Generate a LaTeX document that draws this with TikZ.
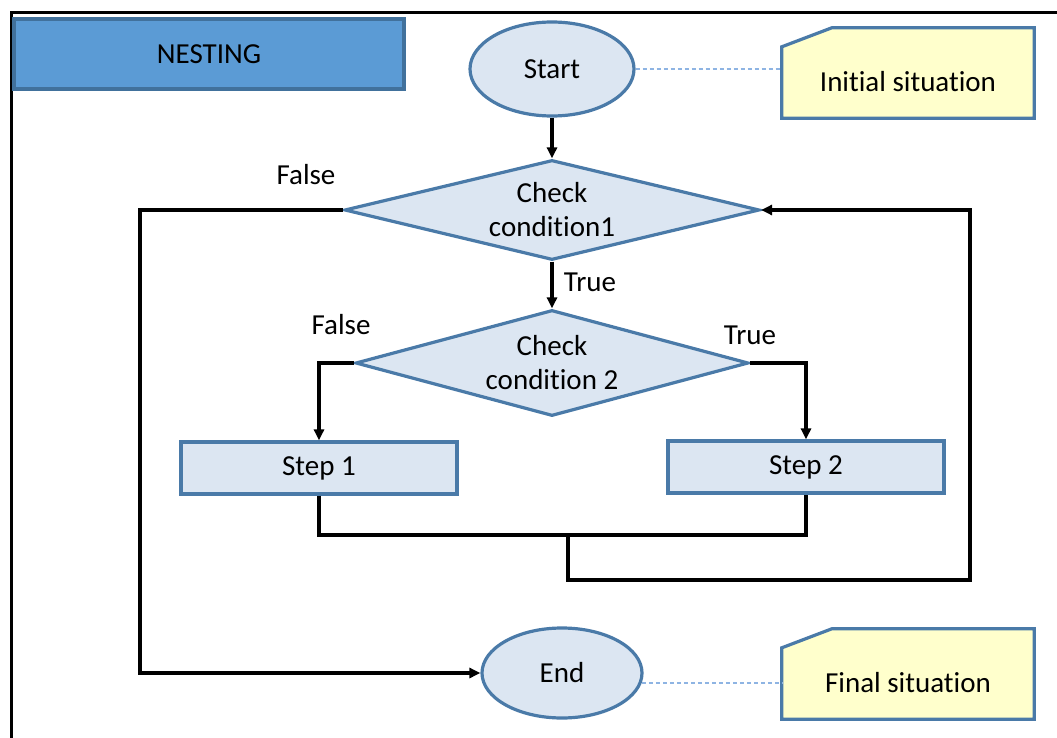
\documentclass[tikz,border=0pt]{standalone}
\usepackage{fontspec}
\setmainfont{Carlito}[Ligatures={NoCommon}]
\usetikzlibrary{shapes.geometric,arrows.meta,backgrounds,calc}
\definecolor{nestfill}{HTML}{5B9BD5}
\definecolor{nestdraw}{HTML}{41719C}
\definecolor{boxfill}{HTML}{DCE6F2}
\definecolor{boxdraw}{HTML}{4A7AA8}
\definecolor{notefill}{HTML}{FFFFCC}
\definecolor{dashblue}{HTML}{8EB4E3}
\tikzset{
  every node/.style={font=\fontsize{29}{34}\selectfont},
  titlebox/.style={rectangle,fill=nestfill,draw=nestdraw,line width=3.2pt,
    minimum width=390pt,minimum height=70pt,inner sep=0pt},
  terminal/.style={ellipse,fill=boxfill,draw=boxdraw,line width=3.2pt,inner sep=0pt},
  decision/.style={diamond,fill=boxfill,draw=boxdraw,line width=3.2pt,inner sep=0pt,
    align=center},
  process/.style={rectangle,fill=boxfill,draw=boxdraw,line width=3.2pt,
    minimum width=276pt,minimum height=52pt,inner sep=0pt},
  notebox/.style={rectangle,minimum width=252pt,minimum height=90pt,inner sep=0pt},
  noteline/.style={fill=notefill,draw=boxdraw,line width=3.2pt,line join=miter},
  flow/.style={draw=black,line width=3.2pt},
  arr/.style={flow,-{Triangle[length=11pt,width=10pt]}},
  dashlink/.style={draw=dashblue,line width=1.4pt,dash pattern=on 4pt off 3pt},
  lbl/.style={inner sep=0pt}
}
\begin{document}
\begin{tikzpicture}[x=1pt,y=-1pt]
\useasboundingbox (0,0) rectangle (1057,738);
\begin{scope}
\clip (0,0) rectangle (1057,738);
% outer frame, running past the right and bottom edges
\draw[line width=3.6pt] (11.5,12.5) rectangle (1075,760);

% heading
\node[titlebox] (nest) at (209,54) {NESTING};

% terminals
\node[terminal,minimum width=164pt,minimum height=94pt] (start) at (552,69) {Start};
\node[terminal,minimum width=160pt,minimum height=90pt] (end) at (562,673) {End};

% decisions
\node[decision,shape aspect=4.15,minimum width=415pt,minimum height=100pt] (d1) at (552,210) {Check\\condition1};
\node[decision,shape aspect=3.7,minimum width=393pt,minimum height=106pt] (d2) at (552,363) {Check\\condition 2};

% processes
\node[process] (s1) at (319,468) {Step 1};
\node[process] (s2) at (806,467) {Step 2};

% annotation notes with a clipped top-left corner; text sits low in the note
\node[notebox] (init) at (908,73) {\raisebox{-19pt}[0pt][0pt]{Initial situation}};
\node[notebox] (fin) at (908,674) {\raisebox{-18pt}[0pt][0pt]{Final situation}};
\begin{scope}[on background layer]
  \foreach \n in {init,fin}{
    \path[noteline] (\n.south west) -- ($(\n.north west)+(0,19)$)
      -- ($(\n.north west)+(50,0)$) -- (\n.north east) -- (\n.south east) -- cycle;
  }
\end{scope}

% dashed links to the notes
\draw[dashlink] (start.east) -- (init.west |- start.east);
\draw[dashlink] (end.-7) -- (fin.west |- end.-7);

% corner points of the connectors
\coordinate (falseleft) at (140,210);
\coordinate (merge) at (568,535);
\coordinate (mergedown) at (568,580);
\coordinate (loopright) at (970,580);

% connectors
\draw[arr] (start) -- (d1);
\draw[arr] (d1.west) -- (falseleft) |- (end.west);
\draw[arr] (d1.south) -- (d2.north);
\draw[arr] (d2.west) -| (s1.north);
\draw[arr] (d2.east) -| (s2.north);
\draw[flow] (s1.south) |- (merge) -| (s2.south);
\draw[arr] (merge) -- (mergedown) -- (loopright) |- (d1.east);

% branch labels
\node[lbl] (f1) at (306,175) {False};
\node[lbl] (t1) at (590,282) {True};
\node[lbl] (f2) at (341,325) {False};
\node[lbl] (t2) at (750,335) {True};
\end{scope}
\end{tikzpicture}
\end{document}
